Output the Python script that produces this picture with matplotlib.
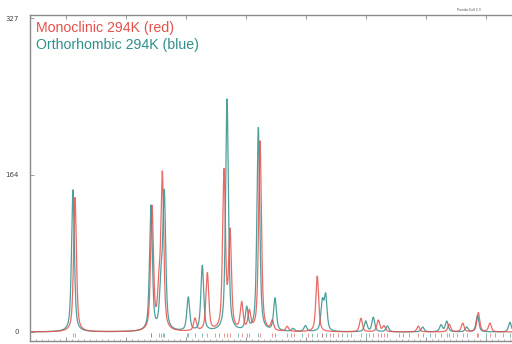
import numpy as np
import matplotlib
matplotlib.use("Agg")
import matplotlib.pyplot as plt

RED = "#e5514c"
TEAL = "#2f8f8c"

# peak lists: 2theta (deg), height (counts)
mono_pos = [5.75, 12.17, 12.75, 13.03, 15.75, 16.78, 18.17, 18.67, 19.64, 20.28,
            21.17, 22.19, 23.44, 25.94, 29.58, 31.03, 31.50, 34.36, 36.94, 38.06,
            39.36, 40.33]
mono_h = [140, 128, 38, 160, 13, 60, 165, 100, 28, 19,
          198, 10, 5, 58, 14, 12, 6, 6, 8, 9,
          20, 9]

orth_pos = [5.58, 12.08, 12.92, 13.19, 15.19, 16.36, 18.42, 20.06, 21.03, 22.42,
            23.92, 24.95, 26.36, 26.64, 29.98, 30.61, 31.78, 34.73, 36.25, 36.73,
            38.39, 39.29, 42.00]
orth_h = [148, 130, 45, 140, 35, 68, 242, 23, 212, 34,
          3, 6, 30, 36, 11, 15, 6, 5, 7, 11,
          5, 17, 10]

# reflection markers under the pattern
mono_refl = [5.78, 12.10, 12.75, 13.05, 15.10, 15.75, 16.78, 17.40, 18.17, 18.67,
             19.64, 20.28, 21.17, 22.14, 23.39, 24.00, 25.17, 25.94, 26.33, 27.00,
             27.67, 28.40, 29.58, 30.22, 31.03, 31.50, 32.72, 33.60, 34.36, 35.75,
             36.94, 37.60, 38.06, 39.36, 40.33, 41.44]
orth_refl = [5.58, 12.08, 12.92, 13.19, 15.19, 16.33, 17.75, 18.42, 19.33, 20.06,
             21.03, 22.42, 23.72, 24.67, 25.50, 26.36, 26.64, 27.28, 28.03, 28.75,
             29.98, 30.61, 31.28, 31.78, 33.08, 34.73, 35.36, 36.25, 36.73, 37.23,
             38.39, 39.29, 40.00, 40.75, 42.00]


def profile(x, pos, h, fwhm=0.28, eta=0.6):
    y = np.zeros_like(x)
    g = fwhm / 2
    for p, a in zip(pos, h):
        d = x - p
        lor = 1 / (1 + (d / g) ** 2)
        gau = np.exp(-np.log(2) * (d / g) ** 2)
        y += a * (eta * lor + (1 - eta) * gau)
    return y


x = np.linspace(2.0, 42.2, 6000)
y_mono = profile(x, mono_pos, mono_h)
y_orth = profile(x, orth_pos, orth_h)

fig = plt.figure(figsize=(5.12, 3.44), dpi=100)
ax = fig.add_axes([30 / 512, 1 - 341 / 344, 482 / 512, 326 / 344])

ax.plot(x, y_orth, color=TEAL, lw=0.9, alpha=0.85)
ax.plot(x, y_mono, color=RED, lw=0.9, alpha=0.85)

ax.vlines(orth_refl, -5.5, -1.5, color=TEAL, lw=0.6, alpha=0.7)
ax.vlines(mono_refl, -5.5, -1.5, color=RED, lw=0.6, alpha=0.7)

ax.set_xlim(2.0, 42.17)
ax.set_ylim(-9.4, 330.2)

for side in ["left", "top", "bottom"]:
    ax.spines[side].set_color("#8a8a8a")
    ax.spines[side].set_linewidth(1.0)
ax.spines["right"].set_visible(False)

ax.set_yticks([0, 164, 327])
ax.set_yticklabels(["0", "164", "327"])
ax.tick_params(axis="y", direction="in", length=3, width=0.6, color="#8a8a8a",
               labelsize=5, labelcolor="#444444", pad=8)

ax.set_xticks(np.arange(5, 42, 5))
ax.set_xticks(np.arange(2.5, 42.2, 0.5), minor=True)
ax.tick_params(axis="x", which="major", direction="in", length=3, width=0.6,
               color="#8a8a8a", top=True, labelbottom=False)
ax.tick_params(axis="x", which="minor", direction="in", length=1.5, width=0.5,
               color="#999999", top=False)

fig.text(36 / 512, 1 - 21 / 344, "Monoclinic 294K (red)", color=RED,
         fontsize=10.2, family="Liberation Sans", va="top")
fig.text(36 / 512, 1 - 38 / 344, "Orthorhombic 294K (blue)", color=TEAL,
         fontsize=10.2, family="Liberation Sans", va="top")
fig.text(457 / 512, 1 - 12 / 344, "PowderCell 2.3", color="#555555",
         fontsize=2.5, family="Liberation Sans", va="bottom")

fig.savefig("out.png", dpi=100, facecolor="white")
